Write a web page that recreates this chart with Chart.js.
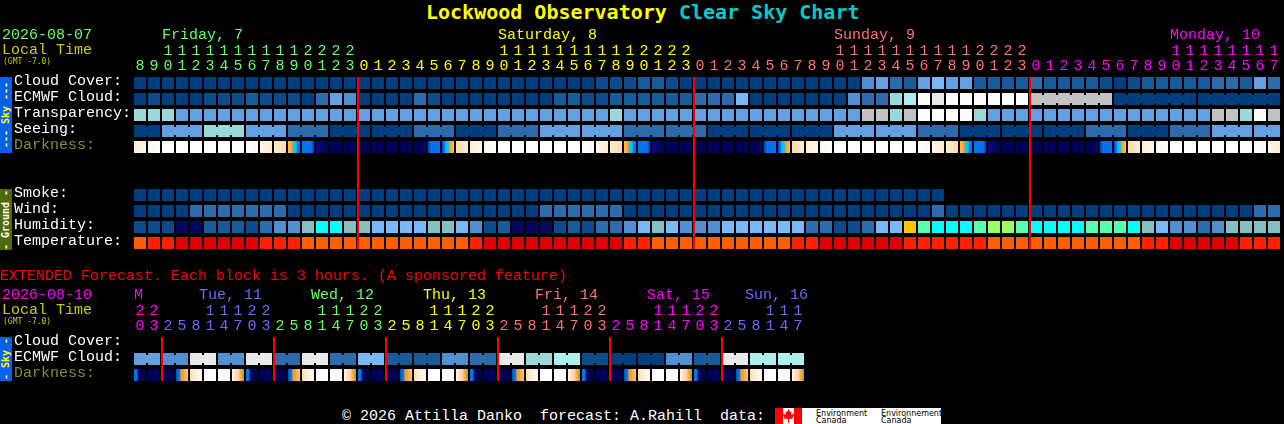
<!DOCTYPE html>
<html>
<head>
<meta charset="utf-8">
<title>Lockwood Observatory Clear Sky Chart</title>
<script src="https://cdn.jsdelivr.net/npm/chart.js@4"></script>
<style>
  html, body { margin:0; padding:0; background:#000; width:1284px; height:424px; overflow:hidden; }
  body { font-family:'Liberation Mono', monospace; font-size:15px; line-height:15px; color:#fff; }
  canvas { position:absolute; left:0; }
  .txt { position:absolute; white-space:pre; }
  .title { left:426px; top:0; font-family:'DejaVu Sans Mono', monospace; font-size:20px; line-height:24px; font-weight:bold; color:#ff0; }
  .title span { color:#0cc; }
  .tiny { font-family:'DejaVu Sans Mono', monospace; font-size:8px; line-height:8px; color:#cc0; }
  .side { position:absolute; left:0; width:12px; font-family:'DejaVu Sans Mono', monospace; font-size:10px; }
  .side span { position:absolute; left:6px; top:50%; transform:translate(-50%,-50%) rotate(-90deg); white-space:pre; line-height:12px; font-weight:bold; }
  #logo { position:absolute; left:775px; top:408px; width:166px; height:16px; background:#fff; overflow:hidden; }
  #logo i { position:absolute; top:0; width:8px; height:16px; background:#f00; }
  #logo svg { position:absolute; left:8px; top:1px; }
  #logo b { position:absolute; top:2px; font:normal 8px/7px 'DejaVu Sans', sans-serif; color:#000; white-space:pre; }
</style>
</head>
<body>
<div class="txt title">Lockwood Observatory <span>Clear Sky Chart</span></div>
<div class="side" style="top:77px;height:76px;background:#0660ee;color:#ff0"><span>--- Sky ---</span></div>
<div class="side" style="top:189px;height:61px;background:#4f6a0a;color:#fff"><span>- Ground -</span></div>
<div class="side" style="top:337px;height:44px;background:#0660ee;color:#ff0"><span>- Sky -</span></div>
<canvas id="mainChart" width="1284" height="260" style="top:0"></canvas>
<canvas id="extChart" width="1284" height="132" style="top:260px"></canvas>
<div class="txt" style="left:342px;top:409px">© 2026 Attilla Danko  forecast: A.Rahill  data:</div>
<div id="logo">
  <i style="left:0"></i><i style="left:19px"></i>
  <svg width="11" height="14" viewBox="0 0 11 14"><polygon fill="#f00" points="5.5,0 7,3 8.5,2.5 8,6 10.5,4.5 11,6.5 9.5,8.5 10,9.5 6,10 6,14 5,14 5,10 1,9.5 1.5,8.5 0,6.5 0.5,4.5 3,6 2.5,2.5 4,3"/></svg>
  <b style="left:41px">Environment
Canada</b><b style="left:106px">Environnement
Canada</b>
</div>
<script>
// block colours, the numbers in the rows below index into this
const blockColors = [
  '#003f7f','#0c4b8c','#165b9c','#2c6cae','#4f8fd2','#62a0e3','#78b7f8', // blues
  '#99d9d9','#aeeeee','#c2c2c2','#e9e9e9','#fefefe',                     // teal, grey, white
  '#07075f','#85c0c0','#00ffff','#58ffb0','#99ff66','#ffc800',           // humidity
  '#ff5f00','#ff2000','#e00000'                                          // temperature
];
// darkness stops, each cell below is a string of these hex digits
const darkColors = ['#ffffff','#fff6ea','#ffecd4','#ffd9a8','#ffb64a','#ff9a20','#00c4ff','#0074ee','#0040c0','#000c78','#00005a'];

const hours = [8,9,10,11,12,13,14,15,16,17,18,19,20,21,22,23,
  0,1,2,3,4,5,6,7,8,9,10,11,12,13,14,15,16,17,18,19,20,21,22,23,
  0,1,2,3,4,5,6,7,8,9,10,11,12,13,14,15,16,17,18,19,20,21,22,23,
  0,1,2,3,4,5,6,7,8,9,10,11,12,13,14,15,16,17];
const hourColors = [].concat(
  Array(16).fill('#66ff66'), Array(24).fill('#ffff00'), Array(24).fill('#ff7070'), Array(18).fill('#ff00ff'));
const midnights = [16,40,64];

const cloudCover = [0,0,0,0,0,0,0,0,0,0,0,0,0,0,0,0,
  0,0,0,0,0,0,0,0,0,0,0,0,0,0,0,0,0,1,1,1,2,2,1,0,
  0,0,0,0,0,0,0,0,0,0,0,0,4,5,3,2,5,6,5,5,2,2,2,2,
  3,2,2,2,2,1,0,1,2,2,2,2,2,3,3,2,5,3];
const ecmwfCloud = [0,1,0,0,0,1,1,1,2,1,1,1,0,3,5,4,
  0,0,0,0,3,1,0,0,0,0,0,0,0,0,2,2,1,1,2,2,2,2,2,2,
  3,3,3,6,0,0,0,0,0,0,0,4,3,3,7,8,11,10,11,11,11,11,11,11,
  9,9,9,9,9,9,0,0,0,0,0,0,0,0,0,0,0,0];
const ecmwfLinks = [[64,69],[70,75],[76,81]];
const transparency = [7,7,7,5,5,5,5,5,5,5,5,5,5,5,5,5,
  5,5,5,5,5,5,5,5,5,5,5,5,5,5,5,5,5,5,7,5,5,5,5,5,
  5,5,5,5,5,5,5,5,5,5,5,5,9,9,7,9,11,11,11,11,7,5,5,5,
  5,5,5,5,5,5,5,5,5,5,5,5,5,9,9,7,11,9];
const seeing = [0,0,5,5,5,7,7,7,5,5,5,3,3,3,0,0,
  0,0,0,0,3,3,3,0,0,0,3,3,3,5,5,5,5,5,5,3,3,3,3,3,
  3,0,0,0,0,0,0,0,0,0,5,5,5,5,5,5,3,3,3,0,0,0,0,0,
  0,0,0,0,3,3,3,0,0,0,3,3,3,5,5,5,5,5];
const seeingLinks = [[0,1],[2,4],[5,7],[8,10],[11,13],[14,16],[17,19],[20,22],[23,25],[26,28],[29,31],[32,34],[35,37],[38,40],
  [41,43],[44,46],[47,49],[50,52],[53,55],[56,58],[59,61],[62,64],[65,67],[68,70],[71,73],[74,76],[77,79],[80,81]];
const darkness = ['21','10','0','0','0','0','0','0','01','12','23','4456677','77778','9a','a','a',
  'a','a','a','a','aaa9','87777','8766544','32','21','10','0','0','0','0','0','0','01','12','23','4456677','77778','9a','a','a',
  'a','a','a','a','aaa9','87777','8766544','32','21','10','0','0','0','0','0','0','01','12','23','4456677','77778','9a','a','a',
  'a','a','a','a','aaa9','87777','8766544','32','21','10','0','0','0','0','0','0','01','12'];
const smoke = [0,0,0,0,0,0,0,0,0,0,0,0,0,0,0,0,
  0,0,0,0,0,0,0,0,0,0,0,0,0,0,0,0,0,0,0,0,0,0,0,0,
  0,0,0,0,0,0,0,0,0,0,0,0,0,0,0,0,0,0];
const wind = [0,0,0,0,3,3,3,3,3,3,3,0,0,0,0,0,
  0,0,0,0,0,0,0,0,0,0,0,0,0,3,3,3,3,3,3,0,0,0,0,0,
  0,0,0,0,0,0,0,0,0,0,0,0,0,0,0,0,0,3,0,0,0,0,0,0,
  0,0,0,0,0,0,0,0,0,0,0,0,0,0,0,0,3,3];
const humidity = [1,1,1,12,12,2,2,2,1,3,4,4,13,14,14,13,
  13,6,6,6,6,13,13,6,4,1,2,12,12,12,1,2,1,3,3,4,6,13,6,4,
  4,4,6,6,6,6,6,6,3,3,1,1,3,6,6,17,15,14,14,14,15,16,16,15,
  14,14,14,14,15,15,15,14,13,6,4,4,3,4,13,13,13,13];
const temperature = [18,19,19,20,20,20,20,20,20,19,19,19,18,18,18,18,
  18,18,18,18,18,18,18,18,19,20,20,20,20,20,20,20,20,20,20,19,19,18,18,18,
  18,18,18,18,18,18,18,19,19,20,20,20,20,20,20,19,19,19,19,19,19,18,18,18,
  18,18,18,18,18,18,18,18,19,19,20,20,20,20,20,19,19,19];

// extended forecast, one column is 3 hours
const extHours = [20,23,2,5,8,11,14,17,20,23,2,5,8,11,14,17,20,23,2,5,8,11,14,17,
  20,23,2,5,8,11,14,17,20,23,2,5,8,11,14,17,20,23,2,5,8,11,14,17];
const extHourColors = [].concat(
  Array(2).fill('#ff00ff'), Array(8).fill('#6a6aff'), Array(8).fill('#66ff66'), Array(8).fill('#ffff00'),
  Array(8).fill('#ff7070'), Array(8).fill('#ff00ff'), Array(6).fill('#6a6aff'));
const extMidnights = [2,10,18,26,34,42];
const extCloud = [5,5,4,4,10,10,4,4,10,10,3,3,10,10,3,3,6,6,2,2,2,2,4,4,
  3,3,10,10,7,7,8,8,1,1,0,0,0,0,4,4,2,2,10,10,8,8,8,8];
const extLinks = [[0,1],[2,3],[4,5],[6,7],[8,9],[10,11],[12,13],[14,15],[16,17],[18,19],[20,21],[22,23],
  [24,25],[26,27],[28,29],[30,31],[32,33],[34,35],[36,37],[38,39],[40,41],[42,43],[44,45],[46,47]];
const extDarkness = ['77aaaa','a','a','87755443','3210','0','0','1233456',
  '77aaaa','a','a','87755443','3210','0','0','1233456',
  '77aaaa','a','a','87755443','3210','0','0','1233456',
  '77aaaa','a','a','87755443','3210','0','0','1233456',
  '77aaaa','a','a','87755443','3210','0','0','1233456',
  '77aaaa','a','a','87755443','3210','0','0','1233456'];

const mono = 'Liberation Mono';

const midnightLines = {
  id:'midnightLines',
  afterDatasetsDraw(chart, args, opts) {
    const {ctx, chartArea:{top,bottom}, scales:{x}} = chart;
    ctx.fillStyle = '#f00';
    opts.at.forEach(i => ctx.fillRect(x.getPixelForValue(i)-7, top, 2, bottom-top));
  }
};

function darkGradient(ctx, cell) {
  if (ctx.type !== 'data') return 'transparent';
  const x = ctx.chart.scales.x.getPixelForValue(ctx.dataIndex);
  if (!isFinite(x)) return 'transparent';   // scale not laid out yet on the first pass
  const stops = cell[ctx.dataIndex];
  const g = ctx.chart.ctx.createLinearGradient(x-6, 0, x+6, 0);
  [...stops].forEach((s,n) => g.addColorStop(stops.length>1 ? n/(stops.length-1) : 0, darkColors[parseInt(s,16)]));
  return g;
}

function rowDatasets(row, r) {
  const sets = [];
  if (row.values || row.dark) {
    const vals = row.values || row.dark;
    sets.push({
      data: vals.map(() => [r, r+0.75]),
      backgroundColor: row.dark ? ctx => darkGradient(ctx, row.dark) : vals.map(v => blockColors[v]),
      borderWidth: 0,
      barPercentage: 12/14,
      categoryPercentage: 1,
      grouped: false
    });
  }
  if (row.links) {
    const group = i => row.links.findIndex(l => i >= l[0] && i <= l[1]);
    sets.push({
      type: 'line',
      data: row.values.map((v,i) => group(i) >= 0 ? r+0.375 : null),
      borderWidth: 8,
      pointRadius: 0,
      segment: {
        borderColor: c => group(c.p0DataIndex) === group(c.p1DataIndex) ? blockColors[row.values[c.p0DataIndex]] : 'transparent'
      }
    });
  }
  return sets;
}

function drawChart(id, hrs, hrColors, rows, lines, padRight) {
  new Chart(document.getElementById(id), {
    type: 'bar',
    data: {
      labels: hrs.map(h => h < 10 ? ['', String(h)] : [String(h)[0], String(h)[1]]),
      datasets: rows.flatMap(rowDatasets)
    },
    options: {
      responsive: false,
      devicePixelRatio: 1,
      animation: false,
      events: [],
      layout: { padding: { left:14, right:padRight, top:0, bottom:11 } },
      plugins: { legend:{display:false}, tooltip:{enabled:false}, midnightLines:{at:lines} },
      scales: {
        x: {
          position: 'top',
          offset: true,
          afterFit: s => { s.height = 77; },
          grid: { display:false, drawTicks:false },
          border: { display:false },
          ticks: {
            autoSkip: false, maxRotation: 0, minRotation: 0, padding: 3,
            color: c => hrColors[c.index],
            font: { family:mono, size:15, lineHeight:1 }
          }
        },
        y: {
          reverse: true,
          min: 0,
          max: rows.length - 0.25,
          afterFit: s => { s.width = 119; },
          afterBuildTicks: s => { s.ticks = rows.map((row,i) => ({ value:i+0.23 })); },
          grid: { display:false, drawTicks:false },
          border: { display:false },
          ticks: {
            autoSkip: false, crossAlign: 'far', padding: 0,
            color: c => rows[c.index] ? rows[c.index].color : '#fff',
            callback: (v,i) => rows[i].name,
            font: { family:mono, size:15, lineHeight:1 }
          }
        }
      }
    },
    plugins: [midnightLines]
  });
}

const white = '#ffffff', olive = '#8a8a32';
drawChart('mainChart', hours, hourColors, [
  { name:'Cloud Cover:', color:white, values:cloudCover },
  { name:'ECMWF Cloud:', color:white, values:ecmwfCloud, links:ecmwfLinks },
  { name:'Transparency:', color:white, values:transparency },
  { name:'Seeing:', color:white, values:seeing, links:seeingLinks },
  { name:'Darkness:', color:olive, dark:darkness },
  { name:'', color:white },
  { name:'', color:white },
  { name:'Smoke:', color:white, values:smoke },
  { name:'Wind:', color:white, values:wind },
  { name:'Humidity:', color:white, values:humidity },
  { name:'Temperature:', color:white, values:temperature }
], midnights, 3);
drawChart('extChart', extHours, extHourColors, [
  { name:'Cloud Cover:', color:white },
  { name:'ECMWF Cloud:', color:white, values:extCloud, links:extLinks },
  { name:'Darkness:', color:olive, dark:extDarkness }
], extMidnights, 479);

// the plain text around the two charts
const dayNames = ['Friday, 7','Saturday, 8','Sunday, 9','Monday, 10'];
const dayX = [162,498,834,1170];
const dayColors = ['#66ff66','#ffff00','#ff7070','#ff00ff'];
const extDayNames = ['M','Tue, 11','Wed, 12','Thu, 13','Fri, 14','Sat, 15','Sun, 16'];
const extDayX = [134,199,311,423,535,647,745];
const extDayColors = ['#ff00ff','#6a6aff','#66ff66','#ffff00','#ff7070','#ff00ff','#6a6aff'];

function addText(text, x, y, color, cls) {
  const el = document.createElement('div');
  el.className = 'txt ' + (cls || '');
  el.textContent = text;
  el.style.left = x + 'px';
  el.style.top = y + 'px';
  el.style.color = color;
  document.body.appendChild(el);
}
addText('2026-08-07', 2, 28, '#66ff66');
addText('Local Time', 2, 43, '#cccc00');
addText('(GMT -7.0)', 3, 58, '#cccc00', 'tiny');
dayNames.forEach((d,i) => addText(d, dayX[i], 28, dayColors[i]));
addText('EXTENDED Forecast. Each block is 3 hours. (A sponsored feature)', 0, 269, '#ff0000');
addText('2026-08-10', 2, 288, '#ff00ff');
addText('Local Time', 2, 303, '#cccc00');
addText('(GMT -7.0)', 3, 318, '#cccc00', 'tiny');
extDayNames.forEach((d,i) => addText(d, extDayX[i], 288, extDayColors[i]));
</script>
</body>
</html>
